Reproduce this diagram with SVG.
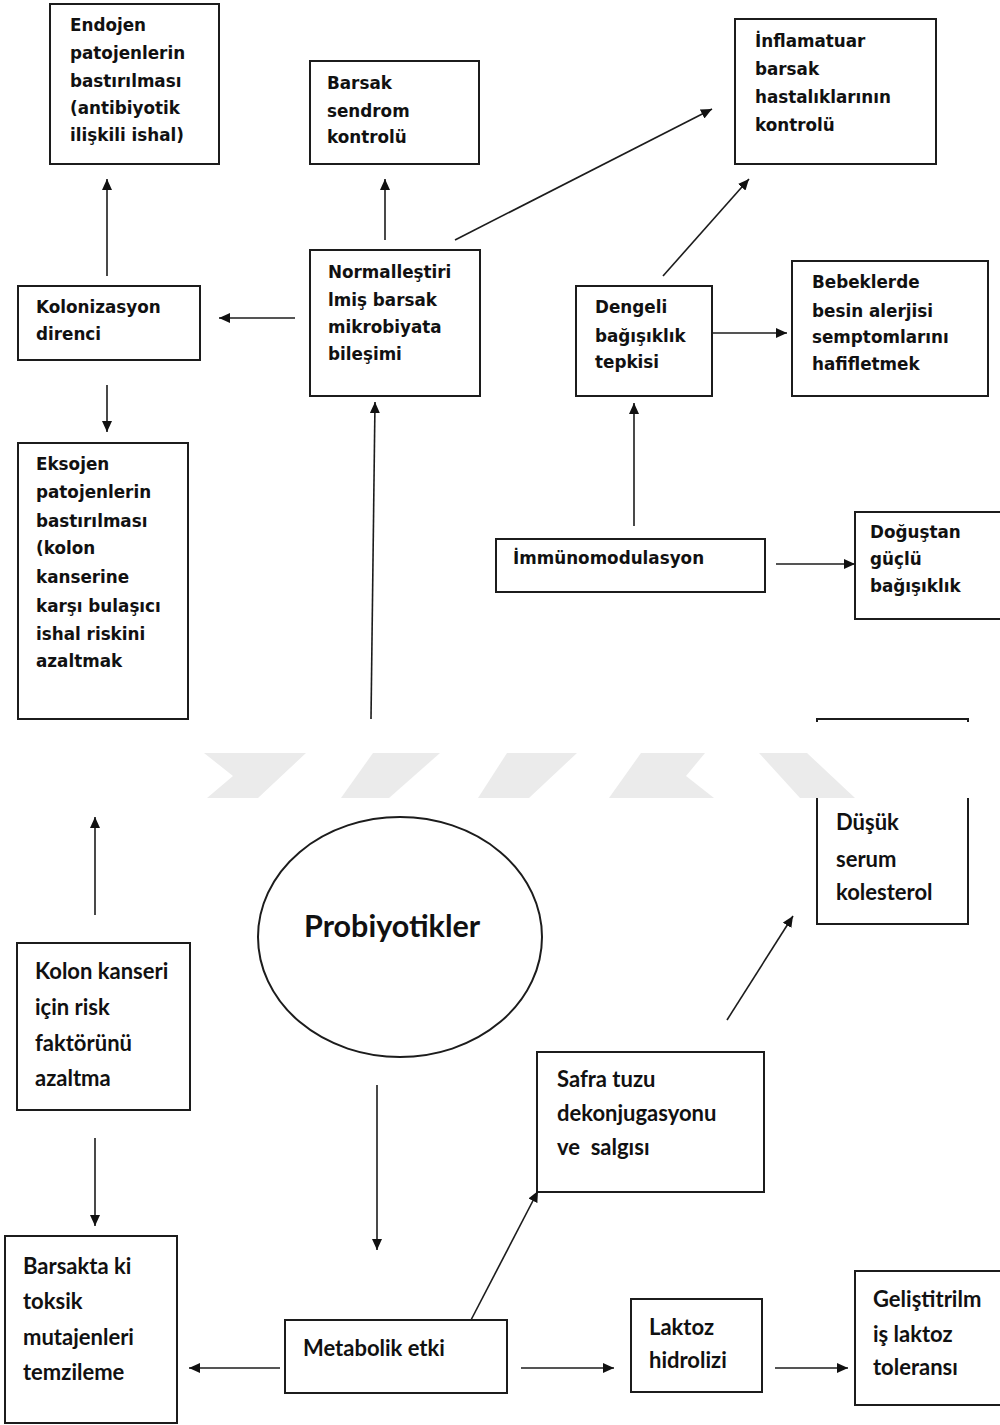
<svg xmlns="http://www.w3.org/2000/svg" width="1000" height="1425" viewBox="0 0 1000 1425">
  <style>
    .box { fill: #ffffff; stroke: #1c1c1c; stroke-width: 2; }
    .oval { fill: #ffffff; stroke: #1c1c1c; stroke-width: 2; }
    .t1 { font-family: "DejaVu Sans", Verdana, sans-serif; font-weight: bold; font-size: 16.8px; fill: #111111; }
    .t2 { font-family: Lato, "Liberation Sans", sans-serif; font-weight: bold; font-size: 22px; fill: #111111; }
    .title { font-family: Lato, "Liberation Sans", sans-serif; font-weight: bold; font-size: 30.5px; fill: #111111; }
    .conn line { stroke: #1c1c1c; stroke-width: 1.6; marker-end: url(#ah); }
    .wm { fill: #ebebeb; }
  </style>
  <defs>
    <marker id="ah" markerWidth="11" markerHeight="10" refX="11" refY="5" orient="auto" markerUnits="userSpaceOnUse">
      <path d="M0,0 L11,5 L0,10 z" fill="#111111"/>
    </marker>
  </defs>

  <rect x="0" y="0" width="1000" height="1425" fill="#ffffff"/>

  <!-- upper half: gut microbiota effects -->
  <g id="endojen">
    <rect class="box" x="50" y="4" width="169" height="160"/>
    <text class="t1" x="70" y="31">Endojen</text>
    <text class="t1" x="70" y="59">patojenlerin</text>
    <text class="t1" x="70" y="87">bastırılması</text>
    <text class="t1" x="70" y="114">(antibiyotik</text>
    <text class="t1" x="70" y="141">ilişkili ishal)</text>
  </g>

  <g id="barsak-sendrom">
    <rect class="box" x="310" y="61" width="169" height="103"/>
    <text class="t1" x="327" y="89">Barsak</text>
    <text class="t1" x="327" y="117">sendrom</text>
    <text class="t1" x="327" y="143">kontrolü</text>
  </g>

  <g id="inflamatuar">
    <rect class="box" x="735" y="19" width="201" height="145"/>
    <text class="t1" x="755" y="47">İnflamatuar</text>
    <text class="t1" x="755" y="75">barsak</text>
    <text class="t1" x="755" y="103">hastalıklarının</text>
    <text class="t1" x="755" y="131">kontrolü</text>
  </g>

  <g id="kolonizasyon">
    <rect class="box" x="18" y="286" width="182" height="74"/>
    <text class="t1" x="36" y="313">Kolonizasyon</text>
    <text class="t1" x="36" y="340">direnci</text>
  </g>

  <g id="mikrobiyata">
    <rect class="box" x="310" y="250" width="170" height="146"/>
    <text class="t1" x="328" y="278">Normalleştiri</text>
    <text class="t1" x="328" y="306">lmiş barsak</text>
    <text class="t1" x="328" y="333">mikrobiyata</text>
    <text class="t1" x="328" y="360">bileşimi</text>
  </g>

  <g id="dengeli">
    <rect class="box" x="576" y="286" width="136" height="110"/>
    <text class="t1" x="595" y="313">Dengeli</text>
    <text class="t1" x="595" y="342">bağışıklık</text>
    <text class="t1" x="595" y="368">tepkisi</text>
  </g>

  <g id="bebeklerde">
    <rect class="box" x="792" y="261" width="196" height="135"/>
    <text class="t1" x="812" y="288">Bebeklerde</text>
    <text class="t1" x="812" y="317">besin alerjisi</text>
    <text class="t1" x="812" y="343">semptomlarını</text>
    <text class="t1" x="812" y="370">hafifletmek</text>
  </g>

  <g id="immunomodulasyon">
    <rect class="box" x="496" y="539" width="269" height="53"/>
    <text class="t1" x="513" y="564">İmmünomodulasyon</text>
  </g>

  <g id="dogustan">
    <rect class="box" x="855" y="512" width="160" height="107"/>
    <text class="t1" x="870" y="538">Doğuştan</text>
    <text class="t1" x="870" y="565">güçlü</text>
    <text class="t1" x="870" y="592">bağışıklık</text>
  </g>

  <g id="eksojen">
    <rect class="box" x="18" y="443" width="170" height="276"/>
    <text class="t1" x="36" y="470">Eksojen</text>
    <text class="t1" x="36" y="498">patojenlerin</text>
    <text class="t1" x="36" y="527">bastırılması</text>
    <text class="t1" x="36" y="554">(kolon</text>
    <text class="t1" x="36" y="583">kanserine</text>
    <text class="t1" x="36" y="612">karşı bulaşıcı</text>
    <text class="t1" x="36" y="640">ishal riskini</text>
    <text class="t1" x="36" y="667">azaltmak</text>
  </g>

  <!-- lower half: metabolic effects -->
  <g id="kolesterol">
    <rect class="box" x="817" y="719" width="151" height="205"/>
    <text class="t2" x="836" y="830">Düşük</text>
    <text class="t2" x="836" y="867">serum</text>
    <text class="t2" x="836" y="900">kolesterol</text>
  </g>

  <g id="probiyotikler">
    <ellipse class="oval" cx="400" cy="937" rx="142" ry="120"/>
    <text class="title" x="304" y="937">Probiyotikler</text>
  </g>

  <g id="kolon-kanseri">
    <rect class="box" x="17" y="943" width="173" height="167"/>
    <text class="t2" x="35" y="979">Kolon kanseri</text>
    <text class="t2" x="35" y="1015">için risk</text>
    <text class="t2" x="35" y="1051">faktörünü</text>
    <text class="t2" x="35" y="1086">azaltma</text>
  </g>

  <g id="toksik">
    <rect class="box" x="5" y="1236" width="172" height="187"/>
    <text class="t2" x="23" y="1274">Barsakta ki</text>
    <text class="t2" x="23" y="1309">toksik</text>
    <text class="t2" x="23" y="1345">mutajenleri</text>
    <text class="t2" x="23" y="1380">temzileme</text>
  </g>

  <g id="metabolik">
    <rect class="box" x="285" y="1320" width="222" height="73"/>
    <text class="t2" x="303" y="1356">Metabolik etki</text>
  </g>

  <g id="safra">
    <rect class="box" x="537" y="1052" width="227" height="140"/>
    <text class="t2" x="557" y="1087">Safra tuzu</text>
    <text class="t2" x="557" y="1121">dekonjugasyonu</text>
    <text class="t2" x="557" y="1155" xml:space="preserve">ve  salgısı</text>
  </g>

  <g id="laktoz">
    <rect class="box" x="631" y="1299" width="131" height="93"/>
    <text class="t2" x="649" y="1335">Laktoz</text>
    <text class="t2" x="649" y="1368">hidrolizi</text>
  </g>

  <g id="laktoz-toleransi">
    <rect class="box" x="855" y="1271" width="160" height="134"/>
    <text class="t2" x="873" y="1307">Geliştitrilm</text>
    <text class="t2" x="873" y="1342">iş laktoz</text>
    <text class="t2" x="873" y="1375">toleransı</text>
  </g>

  <!-- connectors -->
  <g id="connectors" class="conn">
    <line x1="107" y1="276" x2="107" y2="179"/>
    <line x1="385" y1="240" x2="385" y2="179"/>
    <line x1="455" y1="240" x2="712" y2="109"/>
    <line x1="663" y1="276" x2="749" y2="179"/>
    <line x1="295" y1="318" x2="219" y2="318"/>
    <line x1="107" y1="385" x2="107" y2="432"/>
    <line x1="712" y1="333" x2="787" y2="333"/>
    <line x1="634" y1="526" x2="634" y2="403"/>
    <line x1="776" y1="564" x2="855" y2="564"/>
    <line x1="371" y1="719" x2="375" y2="402"/>
    <line x1="95" y1="915" x2="95" y2="817"/>
    <line x1="95" y1="1138" x2="95" y2="1226"/>
    <line x1="377" y1="1085" x2="377" y2="1250"/>
    <line x1="280" y1="1368" x2="189" y2="1368"/>
    <line x1="471" y1="1320" x2="538" y2="1191"/>
    <line x1="521" y1="1368" x2="614" y2="1368"/>
    <line x1="775" y1="1368" x2="848" y2="1368"/>
    <line x1="727" y1="1020" x2="793" y2="916"/>
  </g>

  <!-- page band with faint stamp shapes across the middle -->
  <rect x="0" y="722" width="1000" height="76" fill="#ffffff"/>
  <polygon class="wm" points="204,753 306,753 258,798 207,798 233,776"/>
  <polygon class="wm" points="373,753 440,753 389,798 341,798"/>
  <polygon class="wm" points="507,753 577,753 529,798 478,798"/>
  <polygon class="wm" points="641,753 705,753 686,776 714,798 609,798"/>
  <polygon class="wm" points="759,753 807,753 855,798 800,798"/>
</svg>
